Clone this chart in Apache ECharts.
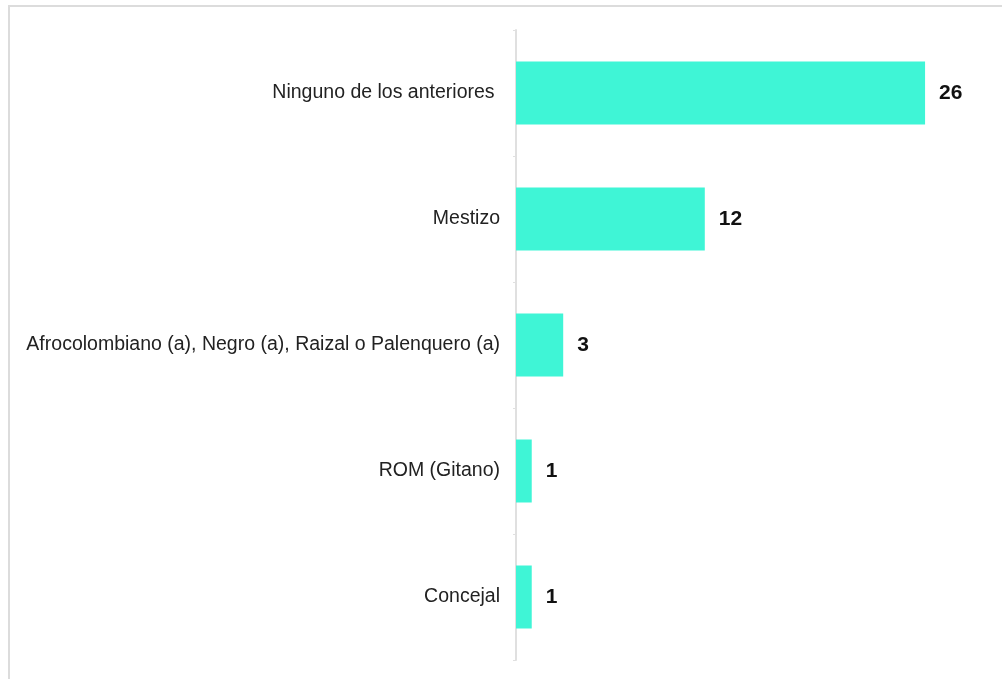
<!DOCTYPE html>
<html><head><meta charset="utf-8">
<script src="https://cdn.jsdelivr.net/npm/echarts@6/dist/echarts.min.js"></script>
<style>html,body{margin:0;padding:0;background:#fff}#c{width:1002px;height:679px}</style>
</head><body><div id="c"></div>
<script>
const categories = ["Ninguno de los anteriores ", "Mestizo", "Afrocolombiano (a), Negro (a), Raizal o Palenquero (a)", "ROM (Gitano)", "Concejal"];
const values = [26, 12, 3, 1, 1];

const chart = echarts.init(document.getElementById('c'));
chart.setOption({
  animation: false,
  backgroundColor: '#fff',
  graphic: [
    { type: 'line', shape: { x1: 8, y1: 6, x2: 1002, y2: 6 }, style: { stroke: '#dcdcdc', lineWidth: 2 } },
    { type: 'line', shape: { x1: 9, y1: 5, x2: 9, y2: 679 }, style: { stroke: '#dcdcdc', lineWidth: 2 } }
  ],
  grid: { left: 516, right: 14, top: 30, bottom: 19, containLabel: false },
  xAxis: { type: 'value', min: 0, max: 30, show: false },
  yAxis: {
    type: 'category', data: categories, inverse: true,
    axisLine: { show: true, lineStyle: { color: '#e0e0e0', width: 2 } },
    axisTick: { show: true, length: 3, lineStyle: { color: '#e0e0e0' } },
    axisLabel: { color: '#222', fontFamily: 'Liberation Sans, Arial', fontSize: 19.5, margin: 16 }
  },
  series: [{
    type: 'bar', data: values, barWidth: '50%',
    itemStyle: { color: '#3ff5d6' },
    label: { show: true, position: 'right', distance: 14, color: '#111', fontWeight: 'bold', fontFamily: 'Liberation Sans, Arial', fontSize: 21 }
  }]
});
</script></body></html>
